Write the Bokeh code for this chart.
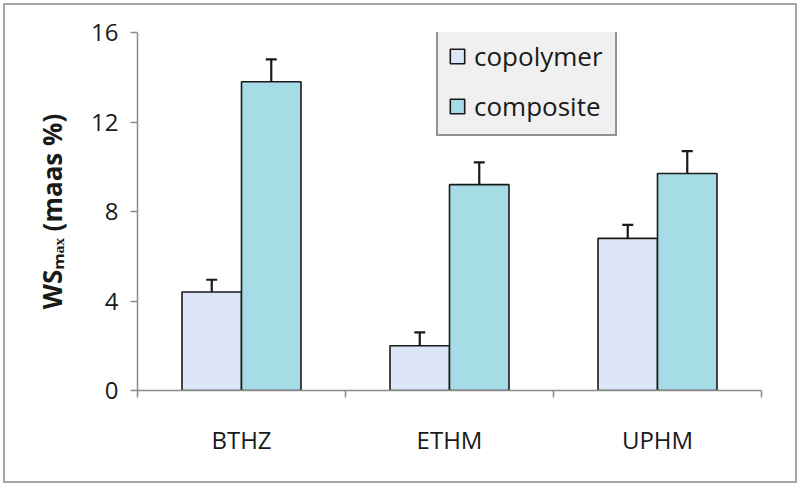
from bokeh.plotting import figure
from bokeh.models import (ColumnDataSource, Range1d, FixedTicker,
                          Whisker, TeeHead, Legend)
from bokeh.embed import file_html
from bokeh.resources import INLINE

categories = ["BTHZ", "ETHM", "UPHM"]
copolymer = [4.4, 2.0, 6.8]
copolymer_err = [0.55, 0.6, 0.6]
composite = [13.8, 9.2, 9.7]
composite_err = [1.0, 1.0, 1.0]
y_ticks = [0, 4, 8, 12, 16]
y_title = "WSₘₐₓ (maas %)"

FONT = "Open Sans"
W, H = 800, 486
ML, MR, MT, MB = 137, 39, 32, 96
BW = 0.286
YMAX = 16

centers = [i + 0.5 for i in range(len(categories))]
src = ColumnDataSource(dict(
    x1=[c - BW / 2 for c in centers],
    x2=[c + BW / 2 for c in centers],
    copolymer=copolymer,
    composite=composite,
    cop_up=[v + e for v, e in zip(copolymer, copolymer_err)],
    com_up=[v + e for v, e in zip(composite, composite_err)],
))

p = figure(width=W, height=H, x_range=Range1d(0, len(categories)),
           y_range=Range1d(0, YMAX), output_backend="svg", toolbar_location=None,
           min_border_left=ML, min_border_right=MR,
           min_border_top=MT, min_border_bottom=MB,
           styles={"background-color": "white",
                   "box-shadow": "inset 0 0 0 3px white, inset 0 0 0 5px #a6a6a6"})
p.xgrid.visible = False
p.ygrid.visible = False
p.outline_line_color = None
p.background_fill_color = "white"
p.border_fill_alpha = 0.0

r1 = p.vbar(x="x1", top="copolymer", width=BW, source=src,
            fill_color="#dde6f6", line_color="#1a1a1a", line_width=1.6)
r2 = p.vbar(x="x2", top="composite", width=BW, source=src,
            fill_color="#a5dce6", line_color="#1a1a1a", line_width=1.6)

for base, lo, up in [("x1", "copolymer", "cop_up"), ("x2", "composite", "com_up")]:
    w = Whisker(base=base, lower=lo, upper=up, source=src,
                line_color="#1a1a1a", line_width=2.2, lower_head=None,
                upper_head=TeeHead(size=11, line_color="#1a1a1a", line_width=2.2))
    p.add_layout(w)

# y axis
ya = p.yaxis[0]
ya.ticker = FixedTicker(ticks=y_ticks, minor_ticks=[])
ya.axis_line_color = "#8a8a8a"
ya.axis_line_width = 1.5
ya.major_tick_line_color = "#8a8a8a"
ya.major_tick_line_width = 1.5
ya.major_tick_in = 0
ya.major_tick_out = 7
ya.major_label_text_font = FONT
ya.major_label_text_font_size = "24px"
ya.major_label_text_color = "#1a1a1a"
ya.major_label_standoff = 12
ya.axis_label = y_title
ya.axis_label_text_font = FONT
ya.axis_label_text_font_size = "26px"
ya.axis_label_text_font_style = "bold"
ya.axis_label_text_color = "#1a1a1a"
ya.axis_label_standoff = 18

# x axis (category boundaries as ticks, names centred)
xa = p.xaxis[0]
xa.ticker = FixedTicker(ticks=centers, minor_ticks=list(range(len(categories) + 1)))
xa.major_label_overrides = {c: name for c, name in zip(centers, categories)}
xa.axis_line_color = "#8a8a8a"
xa.axis_line_width = 1.5
xa.major_tick_line_color = None
xa.minor_tick_line_color = "#8a8a8a"
xa.minor_tick_line_width = 1.5
xa.minor_tick_in = 0
xa.minor_tick_out = 7
xa.major_label_text_font = FONT
xa.major_label_text_font_size = "24px"
xa.major_label_text_color = "#1a1a1a"
xa.major_label_standoff = 25

# legend
leg = Legend(items=[("copolymer", [r1]), ("composite", [r2])],
             location=(299, 254), orientation="vertical",
             label_text_font=FONT, label_text_font_size="26px", label_text_color="#1a1a1a",
             glyph_width=18, glyph_height=18, label_height=26, label_width=131,
             label_standoff=8, spacing=14, padding=10, margin=0,
             border_line_color="#333333", border_line_width=2,
             background_fill_color="#f0f0f0", background_fill_alpha=1.0)
p.add_layout(leg)

open("out.html", "w").write(file_html(p, INLINE))
